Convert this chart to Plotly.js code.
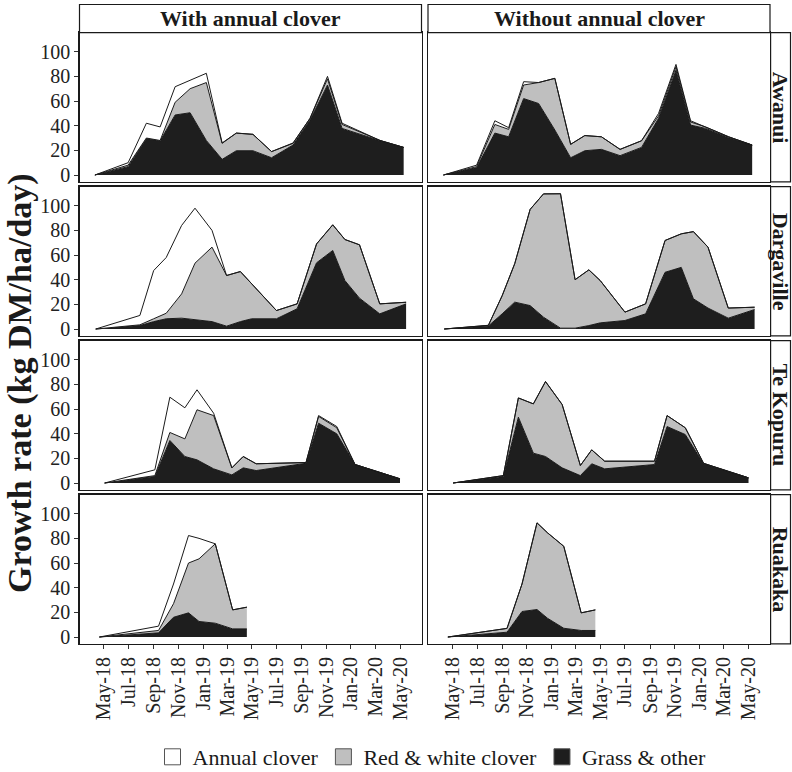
<!DOCTYPE html>
<html><head><meta charset="utf-8">
<script src="https://cdn.plot.ly/plotly-3.0.1.min.js"></script>
<style>html,body{margin:0;padding:0;background:#fff}#chart{width:792px;height:772px}</style>
</head><body><div id="chart"></div>
<script>
const sites = ['Awanui', 'Dargaville', 'Te Kopuru', 'Ruakaka'];
const treatments = ['With annual clover', 'Without annual clover'];
const componentNames = ['Grass & other', 'Red & white clover', 'Annual clover'];
const tickDates = ['2018-05-01','2018-07-01','2018-09-01','2018-11-01','2019-01-01','2019-03-01','2019-05-01','2019-07-01','2019-09-01','2019-11-01','2020-01-01','2020-03-01','2020-05-01'];
const tickLabels = ['May-18','Jul-18','Sep-18','Nov-18','Jan-19','Mar-19','May-19','Jul-19','Sep-19','Nov-19','Jan-20','Mar-20','May-20'];
const yTicks = [0, 20, 40, 60, 80, 100];

// Awanui
const awanuiDates = ['2018-04-09','2018-06-30','2018-08-14','2018-09-17','2018-10-24','2018-11-30','2019-01-09','2019-02-17','2019-03-24','2019-05-04','2019-06-19','2019-08-11','2019-09-22','2019-11-04','2019-12-10','2020-01-16','2020-03-13','2020-05-10'];
const awanuiWithGrass  = [0, 6.8, 29.7, 27.8, 48.7, 50.5, 28, 12.7, 19.7, 19.7, 14, 24.3, 44.6, 73, 37.8, 33.8, 27.8, 22.4];
const awanuiWithRed    = [0, 1.2, 0.3, 0.2, 10.3, 19.5, 47, 13, 14.3, 13.3, 5, 1.4, 1.4, 5, 3.2, 2.2, 0.2, 0];
const awanuiWithAnnual = [0, 2, 12, 11, 12.6, 7, 7.5, 0.3, 0, 0, 0, 0.3, 0, 2, 1, 0.5, 0, 0];
const awanuiWithoutGrass  = [0, 6, 34, 31, 62, 58, 36.5, 14, 19.7, 20.8, 15.7, 22.4, 46, 85, 40.5, 37.8, 30.5, 24.3];
const awanuiWithoutRed    = [0, 0.8, 7, 6, 11, 17, 41.9, 10.9, 12.3, 10.2, 5.1, 5.4, 2, 2.8, 2.5, 1.2, 0.5, 0];
const awanuiWithoutAnnual = [0, 1.2, 3, 1.4, 2.7, 0, 0, 0, 0, 0, 0, 0, 2, 1.9, 1, 0, 0, 0];

// Dargaville
const dargavilleDates = ['2018-04-11','2018-07-29','2018-09-01','2018-10-02','2018-11-09','2018-12-12','2019-01-23','2019-02-28','2019-04-03','2019-05-01','2019-07-01','2019-08-21','2019-10-08','2019-11-17','2019-12-17','2020-01-22','2020-03-12','2020-05-16'];
const dargavilleWithGrass  = [0, 2.8, 6, 8.3, 8.8, 7.4, 6, 2.3, 6, 8.3, 8.3, 16.4, 53.7, 63.7, 39.3, 25, 12.3, 20.4];
const dargavilleWithRed    = [0, 0.6, 2.3, 4.5, 19.7, 46, 60.4, 41.1, 40.6, 28.4, 6.7, 4, 15.3, 20.8, 33.3, 43.3, 8.1, 1.3];
const dargavilleWithAnnual = [0, 7.6, 39.1, 45.2, 55.5, 44.6, 13.6, 0, 0, 0, 0, 0, 0, 0, 0, 0, 0, 0];
const dargavilleWithoutGrass  = [0, 2.5, 12.3, 21.8, 19, 9.6, 0.7, 0.7, 2.8, 5, 6.9, 12.3, 46, 50, 24.5, 17, 8.8, 15.8];
const dargavilleWithoutRed    = [0, 0.5, 14.7, 31.2, 78, 100, 109, 39.3, 45.2, 34.3, 6.8, 8.1, 25.8, 27.2, 54.5, 49.4, 8.2, 1.9];
const dargavilleWithoutAnnual = [0, 0, 0, 0, 0, 0, 0, 0, 0, 0, 0, 0, 0, 0, 0, 0, 0, 0];

// Te Kopuru
const teKopuruDates = ['2018-05-03','2018-09-04','2018-10-11','2018-11-17','2018-12-17','2019-01-27','2019-03-13','2019-04-10','2019-05-12','2019-09-12','2019-10-13','2019-11-27','2020-01-11','2020-05-01'];
const teKopuruWithGrass  = [0, 5.3, 34.5, 21.5, 18.8, 11.5, 6.6, 12.3, 10.1, 16, 48.5, 39.9, 15, 3.4];
const teKopuruWithRed    = [0, 0.7, 6.5, 14.3, 40.6, 43.2, 5.7, 9.2, 5.5, 0.6, 5.5, 4.9, 0, 0];
const teKopuruWithAnnual = [0, 4.7, 28.6, 25.2, 16.2, 1.9, 0, 0, 0, 0, 0.7, 1, 0, 0];
const teKopuruWithoutGrass  = [0, 5.3, 53.4, 24.2, 21.5, 12.3, 6, 15.6, 11.5, 15, 45.8, 39.3, 15.6, 4.2];
const teKopuruWithoutRed    = [0, 0.7, 15.6, 40, 60.8, 51.4, 8.2, 11.3, 6.2, 2.7, 8.9, 5.5, 0.4, 0];
const teKopuruWithoutAnnual = [0, 0, 0, 0, 0, 0, 0, 0, 0, 0, 0, 0, 0, 0];

// Ruakaka
const ruakakaDates = ['2018-04-20','2018-09-13','2018-10-20','2018-11-26','2018-12-22','2019-01-31','2019-03-15','2019-04-19'];
const ruakakaWithGrass  = [0, 3.4, 16, 19.6, 12.6, 11.2, 6.6, 6.6];
const ruakakaWithRed    = [0, 1.9, 11, 40.4, 50.8, 64.4, 15.4, 17.6];
const ruakakaWithAnnual = [0, 3.5, 16, 22.3, 16.6, 0, 0, 0];
const ruakakaWithoutGrass  = [0, 3.9, 20.7, 22.3, 15.2, 7.1, 5.3, 5.3];
const ruakakaWithoutRed    = [0, 3.1, 22.3, 70.3, 69.3, 66.5, 14.3, 16.7];
const ruakakaWithoutAnnual = [0, 0, 0, 0, 0, 0, 0, 0];

const siteDates = [awanuiDates, dargavilleDates, teKopuruDates, ruakakaDates];
const panelSeries = [
  [[awanuiWithGrass, awanuiWithRed, awanuiWithAnnual], [awanuiWithoutGrass, awanuiWithoutRed, awanuiWithoutAnnual]],
  [[dargavilleWithGrass, dargavilleWithRed, dargavilleWithAnnual], [dargavilleWithoutGrass, dargavilleWithoutRed, dargavilleWithoutAnnual]],
  [[teKopuruWithGrass, teKopuruWithRed, teKopuruWithAnnual], [teKopuruWithoutGrass, teKopuruWithoutRed, teKopuruWithoutAnnual]],
  [[ruakakaWithGrass, ruakakaWithRed, ruakakaWithAnnual], [ruakakaWithoutGrass, ruakakaWithoutRed, ruakakaWithoutAnnual]]
];

// ---- styling / layout ----
const W = 792, H = 772;
const FONT = 'Liberation Serif, Times New Roman, serif';
const fillColors = ['#1e1e1e', '#bfbfbf', '#ffffff'];
const lineColor = '#1a1a1a';
const colPx = [[79.5, 421.5], [428, 770]];
const rowTopPx = [32.6, 186.6, 340.6, 494.6];
const rowHPx = 149.2;
const fx = p => p / W;
const fy = p => 1 - p / H;

const data = [];
const layout = {
  width: W, height: H,
  margin: {l: 0, r: 0, t: 0, b: 0, pad: 0, autoexpand: false},
  paper_bgcolor: '#fff', plot_bgcolor: '#fff',
  font: {family: FONT, color: '#1a1a1a'},
  showlegend: true,
  legend: {orientation: 'h', x: fx(432), xanchor: 'center', y: fy(757), yanchor: 'middle',
           font: {family: FONT, size: 22, color: '#1a1a1a'}, itemsizing: 'trace', traceorder: 'normal'},
  shapes: [], annotations: []
};

for (let r = 0; r < 4; r++) {
  for (let c = 0; c < 2; c++) {
    const n = r * 2 + c + 1;
    const xk = n === 1 ? 'xaxis' : 'xaxis' + n;
    const yk = n === 1 ? 'yaxis' : 'yaxis' + n;
    const xa = n === 1 ? 'x' : 'x' + n;
    const ya = n === 1 ? 'y' : 'y' + n;
    const y0 = rowTopPx[r] + rowHPx, y1 = rowTopPx[r];
    layout[xk] = {
      domain: [fx(colPx[c][0]), fx(colPx[c][1])], anchor: ya, type: 'date',
      range: ['2018-03-02', '2020-06-23'], tickvals: tickDates, ticktext: tickLabels,
      tickangle: -90, showticklabels: r === 3, ticks: r === 3 ? 'outside' : '',
      ticklen: 4, tickwidth: 1, tickcolor: '#333',
      tickfont: {family: FONT, size: 20, color: '#222'},
      showline: true, mirror: true, linecolor: lineColor, linewidth: 1.2,
      showgrid: false, zeroline: false, fixedrange: true
    };
    layout[yk] = {
      domain: [fy(y0), fy(y1)], anchor: xa, range: [-5.5, 115.5],
      tickvals: yTicks, showticklabels: c === 0, ticks: c === 0 ? 'outside' : '',
      ticklen: 4, tickwidth: 1, tickcolor: '#333',
      tickfont: {family: FONT, size: 20, color: '#222'},
      showline: true, mirror: true, linecolor: lineColor, linewidth: 1.2,
      showgrid: false, zeroline: false, fixedrange: true
    };
    const series = panelSeries[r][c];
    for (let k = 0; k < 3; k++) {
      data.push({
        type: 'scatter', mode: 'lines', x: siteDates[r], y: series[k],
        xaxis: xa, yaxis: ya, stackgroup: 'p' + n,
        fillcolor: fillColors[k], line: {color: lineColor, width: 1},
        name: componentNames[k], showlegend: false, hoverinfo: 'skip'
      });
    }
    // right strips
    if (c === 1) {
      layout.shapes.push({type: 'rect', xref: 'paper', yref: 'paper',
        x0: fx(770.6), x1: fx(790.5), y0: fy(y0), y1: fy(y1),
        line: {color: lineColor, width: 1.2}, fillcolor: '#fff'});
      layout.annotations.push({xref: 'paper', yref: 'paper', x: fx(780.5), y: fy((y0 + y1) / 2),
        xanchor: 'center', yanchor: 'middle',
        text: '<b>' + sites[r] + '</b>', showarrow: false, textangle: 90,
        font: {family: FONT, size: 22, color: '#1a1a1a'}});
    }
  }
}
// top strips
for (let c = 0; c < 2; c++) {
  layout.shapes.push({type: 'rect', xref: 'paper', yref: 'paper',
    x0: fx(colPx[c][0]), x1: fx(colPx[c][1]), y0: fy(32.6), y1: fy(4.5),
    line: {color: lineColor, width: 1.2}, fillcolor: '#fff'});
  layout.annotations.push({xref: 'paper', yref: 'paper', x: fx((colPx[c][0] + colPx[c][1]) / 2), y: fy(18.5),
    xanchor: 'center', yanchor: 'middle',
    text: '<b>' + treatments[c] + '</b>', showarrow: false,
    font: {family: FONT, size: 22, color: '#1a1a1a'}});
}
// y title
layout.annotations.push({xref: 'paper', yref: 'paper', x: fx(20), y: fy(383), textangle: -90,
  xanchor: 'center', yanchor: 'middle',
  text: '<b>Growth rate (kg DM/ha/day)</b>', showarrow: false,
  font: {family: FONT, size: 34, color: '#1a1a1a'}});

// legend entries
const legendOrder = [2, 1, 0];
legendOrder.forEach(k => {
  data.push({type: 'scatter', mode: 'markers', x: [null], y: [null], xaxis: 'x', yaxis: 'y',
    name: componentNames[k], showlegend: true, hoverinfo: 'skip',
    marker: {symbol: 'square', size: 16, color: fillColors[k], line: {color: '#555', width: 1}}});
});

Plotly.newPlot('chart', data, layout, {displayModeBar: false, staticPlot: true});
</script>
</body></html>
